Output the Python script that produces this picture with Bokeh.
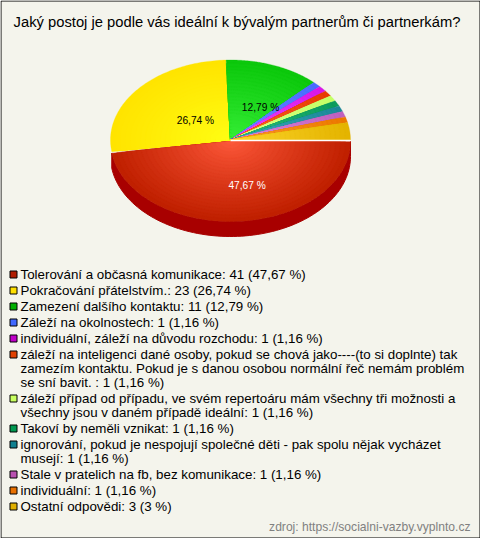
import numpy as np
from bokeh.plotting import figure
from bokeh.embed import file_html
from bokeh.resources import INLINE
from bokeh.core.properties import value

title = "Jaký postoj je podle vás ideální k bývalým partnerům či partnerkám?"
source_note = "zdroj: https://socialni-vazby.vyplnto.cz"
counts = [41, 23, 11, 1, 1, 1, 1, 1, 1, 1, 1, 3]
percent_labels = ["47,67 %", "26,74 %", "12,79 %", "1,16 %", "1,16 %", "1,16 %", "1,16 %", "1,16 %", "1,16 %", "1,16 %", "1,16 %", "3 %"]
legend_lines = [
    ["Tolerování a občasná komunikace: 41 (47,67 %)"],
    ["Pokračování přátelstvím.: 23 (26,74 %)"],
    ["Zamezení dalšího kontaktu: 11 (12,79 %)"],
    ["Záleží na okolnostech: 1 (1,16 %)"],
    ["individuální, záleží na důvodu rozchodu: 1 (1,16 %)"],
    ["záleží na inteligenci dané osoby, pokud se chová jako----(to si doplnte) tak",
     "zamezím kontaktu. Pokud je s danou osobou normální řeč nemám problém",
     "se sní bavit. : 1 (1,16 %)"],
    ["záleží případ od případu, ve svém repertoáru mám všechny tři možnosti a",
     "všechny jsou v daném případě ideální: 1 (1,16 %)"],
    ["Takoví by neměli vznikat: 1 (1,16 %)"],
    ["ignorování, pokud je nespojují společné děti - pak spolu nějak vycházet",
     "musejí: 1 (1,16 %)"],
    ["Stale v pratelich na fb, bez komunikace: 1 (1,16 %)"],
    ["individuální: 1 (1,16 %)"],
    ["Ostatní odpovědi: 3 (3 %)"],
]
swatch_colors = ["#b01c00", "#ffe000", "#00b000", "#4068ff", "#c000c8", "#e04000",
                 "#c8ff60", "#009850", "#108090", "#b850b0", "#e87000", "#e0b000"]
edge_colors = ["#c02000", "#ffe400", "#0cc80c", "#4a6cff", "#d818e8", "#e83c00",
               "#c4ff66", "#0c9c5c", "#1c8898", "#c060c0", "#ec7800", "#e4b400"]
center_colors = ["#ff5a3c", "#ffff14", "#38f038", "#7090ff", "#f050ff", "#ff7030",
                 "#e0ff90", "#30c080", "#40b0c0", "#e090e0", "#ffa030", "#ffd830"]
side_color = "#a80000"

W, H = 480, 538
BG = "#f4f4ec"
FONT = "Liberation Sans"
CX, CY, RX, RY, DEPTH, EXPLODE = 230, 139.5, 120, 80, 15, 1.5

p = figure(width=W, height=H, x_range=(0, W), y_range=(H, 0), toolbar_location=None,
           output_backend="svg", min_border=0, background_fill_color=BG,
           border_fill_color=BG, outline_line_color=None)
p.axis.visible = False
p.grid.visible = False
p.margin = (0, 0, 0, 0)

def rgb(h):
    return np.array([int(h[i:i + 2], 16) for i in (1, 3, 5)], float)

def mix(a, b, t):
    c = rgb(a) * (1 - t) + rgb(b) * t
    return "#%02x%02x%02x" % tuple(int(round(v)) for v in c)

fractions = np.array(counts, float) / sum(counts)
ends = np.cumsum(fractions) * 2 * np.pi
starts = ends - fractions * 2 * np.pi

# side wall of the exploded first slice
a = np.linspace(starts[0], ends[0], 90)
xs = CX + RX * np.cos(a)
ys = CY + EXPLODE + RY * np.sin(a)
p.patch(np.r_[xs, xs[::-1]], np.r_[ys, ys[::-1] + DEPTH], fill_color=side_color, line_color=side_color)

# top faces, stepped radial shading
STEPS = 24
order = list(range(1, len(counts))) + [0]
for i in order:
    off = EXPLODE if i == 0 else 0
    a = np.linspace(starts[i], ends[i], 90 if i < 3 else 12)
    for s in range(STEPS):
        k = 1 - s / STEPS
        col = mix(center_colors[i], edge_colors[i], min(1, k ** 0.9))
        px = np.r_[CX, CX + k * RX * np.cos(a)]
        py = np.r_[CY + off, CY + off + k * RY * np.sin(a)]
        p.patch(px, py, fill_color=col, line_color=col, line_width=0.3)

# white separating gap above the exploded slice
p.line([CX, CX + RX], [CY + 0.6, CY + 0.6], line_color="#ffffff", line_width=1.5)

# percent labels on the three big slices (scaled polar placement)
label_colors = ["#ffffff", "#000000", "#000000"]
label_fx = [1.9, 0.38, 0.70]
label_fy = [0.57, 0.39, 0.44]
for i in range(3):
    mid = (starts[i] + ends[i]) / 2
    p.text([CX + label_fx[i] * RX * np.cos(mid)], [CY + label_fy[i] * RY * np.sin(mid)],
           text=[percent_labels[i]], text_font=value(FONT), text_font_size="10.2px",
           text_color=label_colors[i], text_align="center", text_baseline="middle")

# title
p.text([236.5], [21], text=[title], text_font=value(FONT), text_font_size="14.75px",
       text_color="#000000", text_align="center", text_baseline="middle")

# legend
y = 274.0
for lines, col in zip(legend_lines, swatch_colors):
    p.rect([13], [y], width=7, height=7, fill_color=col, line_color="#000000", line_width=1)
    for j, line in enumerate(lines):
        p.text([20], [y + j * 14], text=[line], text_font=value(FONT), text_font_size="13.33px",
               text_color="#000000", text_align="left", text_baseline="middle")
    y += (len(lines) - 1) * 14 + 16

p.text([470], [526.5], text=[source_note], text_font=value(FONT), text_font_size="12.1px",
       text_color="#808080", text_align="right", text_baseline="middle")

# frame
p.line([0.5, 0.5, W - 0.5, W - 0.5, 0.5], [0.5, H - 0.5, H - 0.5, 0.5, 0.5], line_color="#000000", line_width=1)

open("out.html", "w").write(file_html(p, INLINE))
